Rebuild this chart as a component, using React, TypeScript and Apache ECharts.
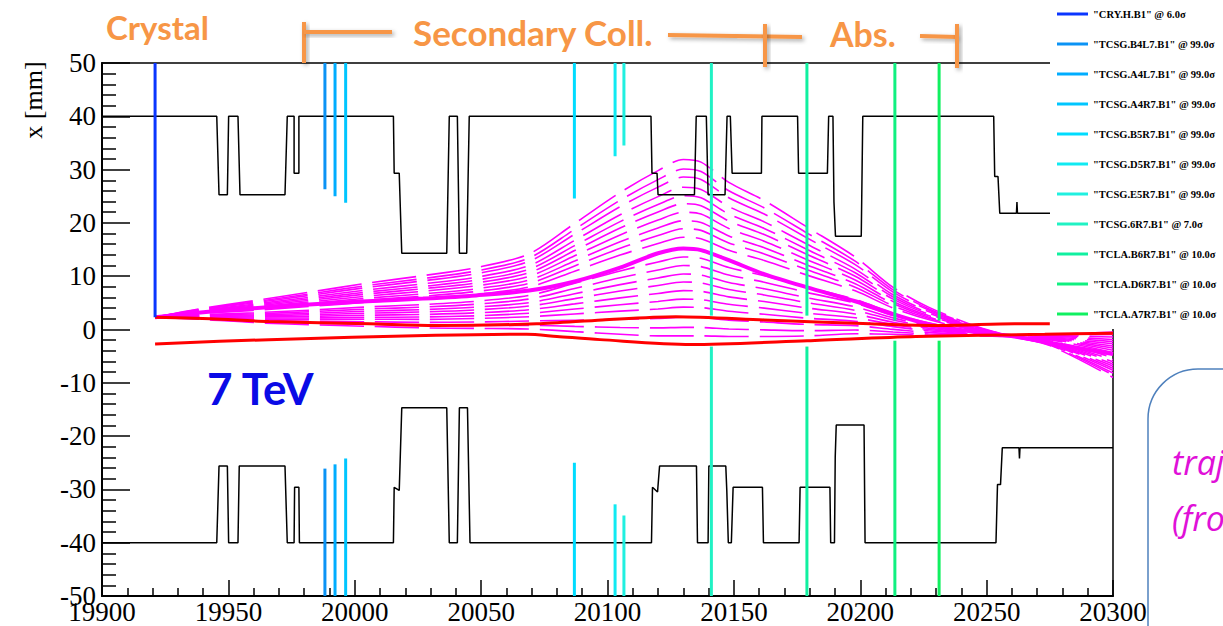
import React, { useEffect, useRef } from "react";
import * as echarts from "echarts";

// ---------- axes ----------
const xRange = [19900, 20300];
const xStep = 50;
const yRange = [-50, 50];
const yStep = 10;

// ---------- collimators (legend entries) ----------
const collNames = [
  '"CRY.H.B1" @ 6.0σ',
  '"TCSG.B4L7.B1" @ 99.0σ',
  '"TCSG.A4L7.B1" @ 99.0σ',
  '"TCSG.A4R7.B1" @ 99.0σ',
  '"TCSG.B5R7.B1" @ 99.0σ',
  '"TCSG.D5R7.B1" @ 99.0σ',
  '"TCSG.E5R7.B1" @ 99.0σ',
  '"TCSG.6R7.B1" @ 7.0σ',
  '"TCLA.B6R7.B1" @ 10.0σ',
  '"TCLA.D6R7.B1" @ 10.0σ',
  '"TCLA.A7R7.B1" @ 10.0σ',
];
const collS = [19921, 19988.2, 19992.2, 19996.4, 20086.9, 20103.0, 20106.5, 20141.1, 20178.9, 20213.7, 20231.2];
const collUpper = [2.3, 26.3, 25.0, 23.8, 24.6, 32.5, 34.5, 2.6, 2.6, 1.7, 1.7];
const collLower = [null, -26.1, -25.3, -24.2, -25.0, -32.8, -34.9, -3.2, -3.2, -2.1, -2.1];
const collColors = [
  "#0a36ff", "#0b93f5", "#00adff", "#00c6ff", "#00dcff", "#10eaf2",
  "#20f0e0", "#20f2c4", "#10f0a0", "#10f080", "#10f060",
];

// ---------- machine aperture ----------
const apertureUpper = [
  [19900, 40], [19945.4, 40], [19946.3, 25.3], [19949.6, 25.3], [19950.1, 40], [19953.8, 40],
  [19954.6, 25.3], [19972.4, 25.3], [19973.3, 40], [19976, 40], [19976, 29.3], [19977.9, 29.3],
  [19977.9, 40], [20015.3, 40], [20015.6, 29.3], [20017.6, 29.3], [20018.6, 14.3], [20036.4, 14.3],
  [20037.4, 40], [20040.6, 40], [20041.4, 14.3], [20044.3, 14.3], [20045.3, 40], [20117.2, 40],
  [20117.6, 29.3], [20119.6, 29.3], [20120, 25.3], [20134.4, 25.3], [20135.1, 40], [20139.1, 40],
  [20139.8, 25.3], [20146.5, 25.3], [20147.3, 40], [20148.6, 40], [20149.3, 29.3], [20160.9, 29.3],
  [20161.1, 40], [20175.2, 40], [20175.6, 29.3], [20187, 29.3], [20187.5, 40], [20189.2, 40],
  [20189.6, 23.9], [20190.2, 17.5], [20200.4, 17.5], [20201, 40], [20252.8, 40], [20253.2, 28.7],
  [20254.5, 28.7], [20255.2, 21.8], [20261.8, 21.8], [20262, 23.9], [20262.2, 21.8], [20300, 21.8],
];
const apertureLower = [
  [19900, -40], [19945.4, -40], [19946.3, -25.6], [19949.6, -25.6], [19950.1, -40], [19953.8, -40],
  [19954.3, -25.6], [19972.4, -25.6], [19973.3, -40], [19976, -40], [19976.2, -29.6], [19977.9, -29.6],
  [19978.1, -40], [20015.3, -40], [20015.6, -29.6], [20017.6, -30.2], [20018.6, -14.7], [20036.4, -14.7],
  [20037.4, -40], [20040.6, -40], [20041.4, -14.7], [20044.6, -14.7], [20045.6, -40], [20117.4, -40],
  [20117.8, -29.6], [20119.8, -30.5], [20120.6, -25.6], [20135.2, -25.6], [20135.6, -40], [20139.8, -40],
  [20140.1, -25.6], [20146.8, -25.6], [20147.2, -30.2], [20147.8, -40], [20149, -40], [20149.7, -29.6],
  [20161.3, -29.6], [20161.7, -40], [20175.8, -40], [20176.2, -29.6], [20188, -29.6], [20188.3, -40],
  [20189.8, -40], [20190.1, -23.9], [20190.5, -17.9], [20201.5, -17.9], [20201.9, -40], [20253.7, -40],
  [20254.3, -29.1], [20255.5, -29.1], [20256.2, -22.2], [20262.8, -22.2], [20263, -24.2], [20263.2, -22.2],
  [20300, -22.2],
];

// ---------- beam envelope (red) ----------
const envelopeUpper = [
  [19921, 2.3], [19943, 2.0], [19966, 1.5], [20006, 1.06], [20032, 0.75], [20072, 1.06], [20098, 1.8],
  [20127, 2.4], [20162, 1.8], [20204, 1.06], [20233, 0.75], [20261, 1.1], [20275, 1.1],
];
const envelopeLower = [
  [19921, -2.7], [19966, -1.9], [20032, -1.1], [20068, -0.9], [20080, -1.3], [20097, -1.9], [20133, -2.8],
  [20179, -2.1], [20222, -1.3], [20273, -0.9], [20300, -0.7],
];

// ---------- channeled trajectories (magenta) ----------
const fanS = [19921, 19939, 19960, 19982, 20005, 20027, 20048, 20069, 20087, 20105, 20120, 20130,
  20137, 20148, 20162, 20179, 20198, 20213, 20227, 20247, 20261, 20275, 20300];
const fanTop = [2.3, 3.9, 5.4, 7.0, 8.7, 10.1, 11.6, 14.2, 19.9, 25.7, 29.8, 31.9,
  31.4, 27.6, 24.2, 19.2, 13.6, 7.9, 4.2, 0.4, -1.4, -3.0, -9.0];
const fanBottom = [2.3, 1.9, 1.3, 0.9, 0.6, 0.3, 0.2, 0.1, -0.4, -0.9, -1.2, -1.2,
  -1.2, -1.3, -1.3, -1.2, -0.8, -0.9, -1.1, -1.2, -1.3, -1.0, -0.5];
const centralTraj = [2.3, 3.2, 4.0, 4.7, 5.3, 5.8, 6.4, 7.3, 9.0, 11.6, 14.3, 15.2,
  14.9, 13.0, 10.4, 7.9, 5.3, 2.9, 1.0, -0.6, -1.3, -2.5, -4.6];
// heights of the dashed trajectories read at s = 20130
const fanPeaks = [31.9, 30.1, 28.6, 26.7, 25.1, 23.6, 22.0, 20.4, 18.9, 17.3, 13.6, 12.0,
  10.4, 8.9, 7.3, 5.7, 4.2, 2.3, 0.4, -1.2];

const ORANGE = "#F79646";

export default function App() {
  const ref = useRef<HTMLDivElement>(null);

  useEffect(() => {
    if (!ref.current) return;
    const chart = echarts.init(ref.current, undefined, { renderer: "svg" });

    const peakIdx = fanS.indexOf(20130);
    const series: any[] = [];

    fanPeaks.forEach((p, i) => {
      const f = (p - fanBottom[peakIdx]) / (fanTop[peakIdx] - fanBottom[peakIdx]);
      series.push({
        type: "line",
        name: "traj" + i,
        data: fanS.map((s, j) => [s, fanBottom[j] + f * (fanTop[j] - fanBottom[j])]),
        showSymbol: false,
        smooth: 0.3,
        silent: true,
        z: 2,
        lineStyle: { color: "#ff00ff", width: 1.6, type: [44, 11] },
      });
    });
    series.push({
      type: "line",
      name: "central",
      data: fanS.map((s, j) => [s, centralTraj[j]]),
      showSymbol: false,
      smooth: 0.3,
      silent: true,
      z: 2,
      lineStyle: { color: "#ff00ff", width: 4 },
    });
    [envelopeUpper, envelopeLower].forEach((d, i) =>
      series.push({
        type: "line",
        name: "env" + i,
        data: d,
        showSymbol: false,
        smooth: 0.3,
        silent: true,
        z: 3,
        lineStyle: { color: "#ff0000", width: 3 },
      })
    );
    [apertureUpper, apertureLower].forEach((d, i) =>
      series.push({
        type: "line",
        name: "aperture" + i,
        data: d,
        showSymbol: false,
        silent: true,
        z: 4,
        lineStyle: { color: "#000", width: 1.5 },
      })
    );
    collNames.forEach((name, i) => {
      const c = collColors[i];
      const common = {
        type: "line",
        name,
        showSymbol: false,
        silent: true,
        z: 5,
        itemStyle: { color: c },
        lineStyle: { color: c, width: 3 },
      };
      series.push({ ...common, data: [[collS[i], yRange[1]], [collS[i], collUpper[i]]] });
      if (collLower[i] !== null) {
        series.push({ ...common, data: [[collS[i], collLower[i]], [collS[i], yRange[0]]] });
      }
    });

    const lab = { fontFamily: "Liberation Serif", fontSize: 27, color: "#000" };
    const shadow = { shadowBlur: 4, shadowColor: "rgba(0,0,0,0.35)", shadowOffsetX: 2, shadowOffsetY: 2 };
    // thick bracket stroke drawn as a thin polygon (so it has a non-empty box for its shadow)
    const bar = (x1: number, y1: number, x2: number, y2: number) => {
      const len = Math.hypot(x2 - x1, y2 - y1);
      const nx = (-(y2 - y1) / len) * 2;
      const ny = ((x2 - x1) / len) * 2;
      return {
        type: "polygon",
        z: 100,
        shape: { points: [[x1 + nx, y1 + ny], [x2 + nx, y2 + ny], [x2 - nx, y2 - ny], [x1 - nx, y1 - ny]] },
        style: { fill: ORANGE, ...shadow },
      };
    };
    const orangeText = (text: string, x: number, y: number, size: number) => ({
      type: "text",
      z: 100,
      x,
      y,
      style: { text, fill: ORANGE, font: `bold ${size}px Lato`, align: "left", verticalAlign: "middle" },
    });

    chart.setOption({
      animation: false,
      grid: {
        left: 102, right: 110, top: 63, bottom: 30,
        show: true, borderColor: "#000", borderWidth: 1.5,
      },
      xAxis: {
        type: "value",
        min: xRange[0], max: xRange[1], interval: xStep,
        axisLine: { onZero: false, lineStyle: { color: "#000", width: 2 } },
        axisTick: { inside: true, length: 16, lineStyle: { color: "#000", width: 1.5 } },
        minorTick: { show: true, splitNumber: 5, length: 8, lineStyle: { color: "#000", width: 1.5 } },
        splitLine: { show: false },
        axisLabel: { ...lab, margin: 2, formatter: (v: number) => String(v) },
      },
      yAxis: {
        type: "value",
        min: yRange[0], max: yRange[1], interval: yStep,
        axisLine: { onZero: false, lineStyle: { color: "#000", width: 2 } },
        axisTick: { inside: true, length: 28, lineStyle: { color: "#000", width: 1.5 } },
        minorTick: { show: true, splitNumber: 5, length: 14, lineStyle: { color: "#000", width: 1.5 } },
        splitLine: { show: false },
        axisLabel: { ...lab, margin: 6, formatter: (v: number) => String(v) },
      },
      legend: {
        data: collNames,
        orient: "vertical",
        left: 1050,
        top: 0,
        padding: [8, 4, 9, 7],
        itemWidth: 31,
        itemHeight: 3,
        itemGap: 18,
        icon: "rect",
        backgroundColor: "#fff",
        selectedMode: false,
        z: 10,
        textStyle: {
          fontFamily: "Liberation Serif", fontWeight: "bold", fontSize: 10.5, color: "#000", lineHeight: 12,
        },
      },
      graphic: [
        {
          type: "text", z: 100, x: 33, y: 100, rotation: Math.PI / 2,
          style: { text: "x [mm]", fill: "#000", font: "26px 'Liberation Serif'", align: "center", verticalAlign: "middle" },
        },
        orangeText("Crystal", 106, 27, 33),
        orangeText("Secondary Coll.", 413, 32, 35),
        orangeText("Abs.", 830, 33, 34),
        bar(304, 22, 304, 63),
        bar(304, 32, 392, 32),
        bar(668, 35, 802, 37),
        bar(765, 24, 765, 67),
        bar(920, 36, 957, 37),
        bar(957, 24, 957, 68),
        {
          type: "text", z: 100, x: 207, y: 388,
          style: { text: "7 TeV", fill: "#0a0ae6", font: "bold 44px Lato", align: "left", verticalAlign: "middle" },
        },
        {
          type: "rect", z: 100,
          shape: { x: 1148, y: 369, width: 200, height: 400, r: 50 },
          style: { fill: "#fff", stroke: "#4f81bd", lineWidth: 1.5 },
        },
        {
          type: "text", z: 101, x: 1172, y: 462,
          style: { text: "trajectories", fill: "#e010d8", font: "italic 34px 'Open Sans'", align: "left", verticalAlign: "middle" },
        },
        {
          type: "text", z: 101, x: 1172, y: 518,
          style: { text: "(from", fill: "#e010d8", font: "italic 34px 'Open Sans'", align: "left", verticalAlign: "middle" },
        },
      ],
      series,
    });

    return () => chart.dispose();
  }, []);

  return (
    <div
      ref={ref}
      style={{ position: "absolute", left: 0, top: 0, width: 1223, height: 626, background: "#fff" }}
    />
  );
}
